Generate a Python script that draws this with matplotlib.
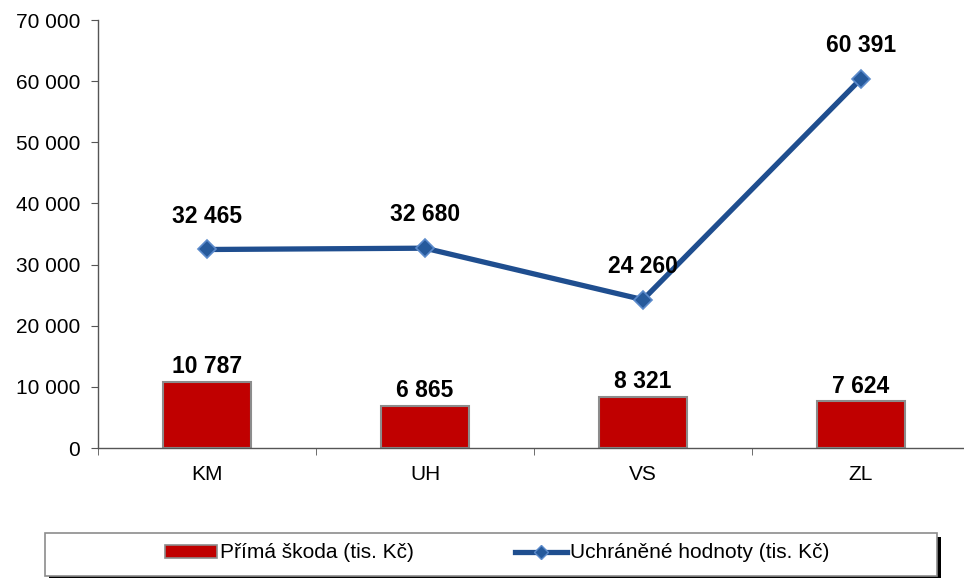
import matplotlib
matplotlib.use("Agg")
import matplotlib.pyplot as plt
from matplotlib.patches import Rectangle
from matplotlib.lines import Line2D
from matplotlib.patches import Patch
from matplotlib.ticker import FuncFormatter
import numpy as np

categories = ["KM", "UH", "VS", "ZL"]
prima_skoda = [10787, 6865, 8321, 7624]
uchranene = [32465, 32680, 24260, 60391]
bar_label = "Přímá škoda (tis. Kč)"
line_label = "Uchráněné hodnoty (tis. Kč)"

plt.rcParams['font.family'] = ['Liberation Sans', 'DejaVu Sans']

fig = plt.figure(figsize=(9.64, 5.78), dpi=100)
ax = fig.add_axes([98/964, 1-448/578, 872/964, 428/578])

x = np.arange(len(categories))
bar_color = "#C00000"
line_color = "#1F4E8F"

ax.bar(x, prima_skoda, width=0.40, color=bar_color, edgecolor="#8C8C8C", linewidth=1.5, zorder=2)
ax.plot(x, uchranene, color=line_color, linewidth=3.8, marker="D", markersize=9,
        markerfacecolor="#265A9C", markeredgecolor="#5B8ACB", markeredgewidth=1.2, zorder=3)

def fmt(v):
    return f"{v:,.0f}".replace(",", " ")

for xi, v in zip(x, prima_skoda):
    ax.annotate(fmt(v), (xi, v), xytext=(0, 11), textcoords="offset points",
                ha="center", va="center", fontsize=16.5, fontweight="bold", zorder=4)
for xi, v in zip(x, uchranene):
    ax.annotate(fmt(v), (xi, v), xytext=(0, 24), textcoords="offset points",
                ha="center", va="center", fontsize=16.5, fontweight="bold", zorder=4)

ax.set_xlim(-0.5, 3.5)
ax.set_ylim(0, 70000)
ax.set_yticks(np.arange(0, 70001, 10000))
ax.yaxis.set_major_formatter(FuncFormatter(lambda v, p: fmt(v)))
ax.set_xticks(x)
ax.set_xticklabels(categories)
ax.set_xticks(np.arange(-0.5, 4, 1), minor=True)
ax.tick_params(axis="x", which="major", length=0, pad=12, labelsize=15)
ax.tick_params(axis="x", which="minor", length=5, direction="out", color="#555555")
ax.tick_params(axis="y", length=5, direction="out", labelsize=15, color="#555555", pad=8)
for s in ["top", "right"]:
    ax.spines[s].set_visible(False)
for s in ["left", "bottom"]:
    ax.spines[s].set_color("#555555")
    ax.spines[s].set_linewidth(1.0)

# legend frame with shadow
lx0, ly0, lw, lh = 45/964, 1-576/578, 892/964, 43/578
shadow = Rectangle((lx0 + 4/964, ly0 - 4/578), lw, lh, transform=fig.transFigure,
                   facecolor="black", edgecolor="none", zorder=0)
frame = Rectangle((lx0, ly0), lw, lh, transform=fig.transFigure,
                  facecolor="white", edgecolor="#8C8C8C", linewidth=1.2, zorder=1)
fig.patches.extend([shadow, frame])

handles = [Patch(facecolor=bar_color, edgecolor="#8C8C8C", linewidth=1.2),
           Line2D([], [], color=line_color, linewidth=3.8, marker="D", markersize=7,
                  markerfacecolor="#265A9C", markeredgecolor="#5B8ACB")]
leg = fig.legend(handles, [bar_label, line_label], loc="center",
                 bbox_to_anchor=(497/964, 1-553/578), ncol=2, frameon=False,
                 fontsize=15, handlelength=2.5, handleheight=0.6, handletextpad=0.15,
                 columnspacing=4.85, numpoints=1)
leg.set_zorder(5)

fig.savefig("out.png", dpi=100)
